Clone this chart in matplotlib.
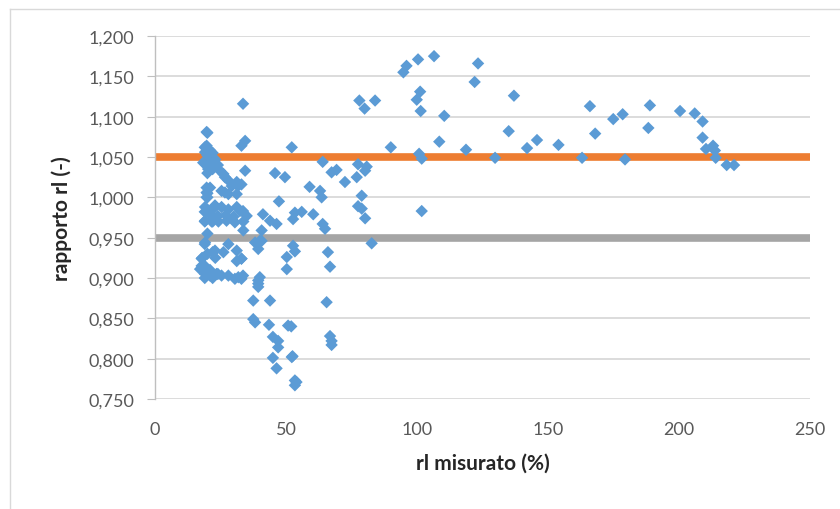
import matplotlib
matplotlib.use("Agg")
import matplotlib.pyplot as plt
from matplotlib.ticker import FuncFormatter
from matplotlib.lines import Line2D

plt.rcParams['font.family'] = ['Lato', 'DejaVu Sans']

# measured rl (%)
x_vals = [
    20, 19, 21, 20, 22, 23, 21, 24, 22, 20, 21, 20, 20, 19, 22, 19, 22, 20, 19, 20,
    22, 18, 19, 18, 20, 21, 22, 24, 19, 23,
    19.7, 19.7, 19.1, 21, 18.4, 20.3, 22.9, 24.8, 26.1, 26.7, 28, 29.3, 31.2, 31.2,
    19.7, 19.7, 19.7, 25.4, 26.7, 28, 31.7,
    19.1, 22.9, 25.4, 28, 31.2, 32.4, 21, 24, 27, 30,
    19.1, 21.6, 24.2, 27.3, 30.5, 33.7, 33.7,
    19.1, 22.9, 26.1, 28, 31.2, 33, 31.2, 17.8, 17.8,
    17.2, 19.1, 21, 23.5, 25.4, 28, 30.5, 31.8, 33, 38.2, 40.7,
    33.6, 34.4, 33, 34.4, 45.8, 49.6, 33, 47.3, 33.6, 35, 41.2, 43.9, 46.4,
    52.7, 56, 40.7, 40, 39.4, 50.3, 50.3, 33, 40, 39.4, 33.6,
    39.4, 39.4, 37.5, 43.9, 37.5, 38.2, 43.5, 50.8, 45, 47, 47, 45, 46.4, 52.2,
    53.4, 53.4, 54,
    52.2, 64, 67.4, 69.3, 72.5, 77, 77.5, 80.8, 80.2, 59, 63, 63.6, 78.9, 77.5,
    78.9, 80.2, 53.4, 60.4, 64, 64.9, 82.7, 52.7, 53.4, 66, 66.8, 65.5, 66.8,
    67.4, 67.4, 52, 52.5, 78, 80, 84, 90,
    94.8, 96, 100.4, 106.5, 123.3, 122, 101.2, 99.9, 101.4, 110.4, 137, 135,
    108.5, 118.7, 142, 145.8, 154, 166, 168, 100.8, 101.8, 129.8, 163, 101.8,
    174.9, 178.5, 179.4, 188.9, 188.3, 200.4, 206, 209, 209, 210.3, 213, 213.7,
    214, 218.2, 221,
]

# rl ratio (-)
y_vals = [
    1.080, 1.062, 1.058, 1.052, 1.055, 1.047, 1.043, 1.040, 1.035, 1.030, 1.012, 1.005,
    1.000, 0.982, 0.985, 0.970, 0.970, 0.955, 0.942, 0.930, 0.932, 0.925, 0.915, 0.910,
    0.905, 0.910, 0.900, 0.905, 0.900, 0.925,
    1.081, 1.064, 1.056, 1.058, 1.043, 1.035, 1.039, 1.033, 1.029, 1.025, 1.021, 1.014,
    1.019, 1.004,
    1.012, 1.006, 1.000, 1.008, 1.006, 1.004, 1.014,
    0.988, 0.990, 0.988, 0.985, 0.988, 0.983, 0.979, 0.977, 0.978, 0.976,
    0.971, 0.970, 0.970, 0.971, 0.969, 0.970, 0.959,
    0.944, 0.934, 0.932, 0.942, 0.934, 0.924, 0.921, 0.924, 0.915,
    0.911, 0.905, 0.903, 0.905, 0.903, 0.903, 0.899, 0.901, 0.899, 0.944, 0.946,
    1.116, 1.070, 1.064, 1.033, 1.030, 1.025, 1.016, 0.995, 0.983, 0.977, 0.979,
    0.971, 0.967,
    0.973, 0.982, 0.959, 0.946, 0.936, 0.926, 0.911, 0.924, 0.901, 0.893, 0.903,
    0.897, 0.889, 0.872, 0.872, 0.849, 0.845, 0.842, 0.841, 0.827, 0.822, 0.814,
    0.801, 0.788, 0.802,
    0.773, 0.767, 0.771,
    1.062, 1.044, 1.031, 1.034, 1.019, 1.025, 1.041, 1.038, 1.033, 1.013, 1.008,
    1.000, 1.002, 0.989, 0.986, 0.974, 0.981, 0.979, 0.967, 0.961, 0.943, 0.940,
    0.933, 0.932, 0.914, 0.870, 0.828, 0.822, 0.817, 0.840, 0.803, 1.120, 1.110,
    1.120, 1.062,
    1.155, 1.163, 1.171, 1.175, 1.166, 1.143, 1.131, 1.121, 1.107, 1.101, 1.126,
    1.082, 1.069, 1.059, 1.061, 1.071, 1.065, 1.113, 1.079, 1.054, 1.048, 1.049,
    1.049, 0.983,
    1.097, 1.103, 1.047, 1.114, 1.086, 1.107, 1.104, 1.094, 1.074, 1.060, 1.064,
    1.058, 1.049, 1.040, 1.040,
]

upper_ref = 1.05
lower_ref = 0.95

x_ticks = [0, 50, 100, 150, 200, 250]
y_ticks = [0.75, 0.80, 0.85, 0.90, 0.95, 1.00, 1.05, 1.10, 1.15, 1.20]

fig = plt.figure(figsize=(8.4, 5.1), dpi=100)
ax = fig.add_axes([155 / 840, 1 - 400 / 510, 655 / 840, 363 / 510])

ax.set_xlim(0, 250)
ax.set_ylim(0.75, 1.20)
ax.set_xticks(x_ticks)
ax.set_yticks(y_ticks)
ax.yaxis.set_major_formatter(FuncFormatter(lambda v, p: f"{v:.3f}".replace(".", ",")))
ax.xaxis.set_major_formatter(FuncFormatter(lambda v, p: f"{v:.0f}"))

ax.grid(axis='y', color='#d9d9d9', linewidth=1.3, zorder=0)
ax.set_axisbelow(True)

for side in ['top', 'right', 'bottom']:
    ax.spines[side].set_visible(False)
ax.spines['left'].set_color('#bfbfbf')
ax.spines['left'].set_linewidth(1.0)

ax.tick_params(axis='y', length=6, color='#bfbfbf', labelsize=13, labelcolor='#595959', pad=9)
ax.tick_params(axis='x', length=0, labelsize=13, labelcolor='#595959', pad=16)

ax.axhline(upper_ref, color='#ED7D31', linewidth=5.5, zorder=2)
ax.axhline(lower_ref, color='#A5A5A5', linewidth=5.5, zorder=2)

ax.scatter(x_vals, y_vals, marker='D', s=40, color='#5B9BD5', edgecolors='none', zorder=3)

ax.set_xlabel('rl misurato (%)', fontsize=15, fontweight='bold', color='#262626', labelpad=11)
ax.set_ylabel('rapporto rl (-)', fontsize=15, fontweight='bold', color='#262626', labelpad=12)

# chart frame
fig.add_artist(Line2D([10 / 840, 10 / 840], [0, 1 - 10 / 510], transform=fig.transFigure,
                      color='#d9d9d9', linewidth=1.0))
fig.add_artist(Line2D([10 / 840, 1], [1 - 10 / 510, 1 - 10 / 510], transform=fig.transFigure,
                      color='#d9d9d9', linewidth=1.0))

fig.savefig('out.png', dpi=100)
